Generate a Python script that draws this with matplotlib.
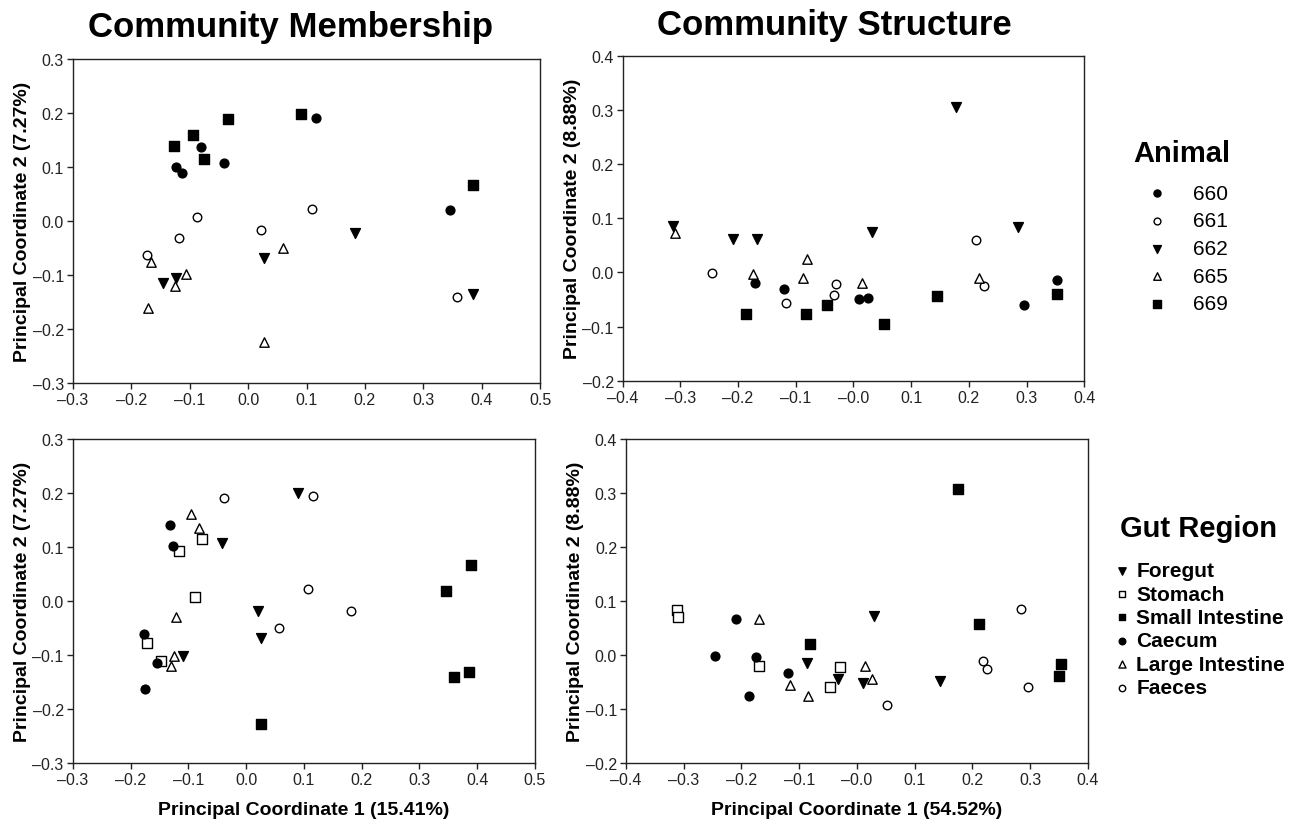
import numpy as np
import matplotlib.pyplot as plt

plt.rcParams['font.family'] = ['Liberation Sans', 'DejaVu Sans']

animals = ['660', '661', '662', '665', '669']
regions = ['Foregut', 'Stomach', 'Small Intestine', 'Caecum', 'Large Intestine', 'Faeces']

# community membership, coloured by animal
memb_animal_x = [
    [-0.123, -0.113, -0.080, -0.041, 0.116, 0.345],
    [-0.087, -0.119, -0.173, 0.022, 0.109, 0.358],
    [-0.146, -0.123, 0.027, 0.183, 0.385],
    [-0.167, -0.171, -0.126, -0.107, 0.059, 0.027],
    [-0.127, -0.094, -0.034, -0.075, 0.091, 0.386],
]
memb_animal_y = [
    [0.100, 0.089, 0.137, 0.108, 0.191, 0.020],
    [0.008, -0.032, -0.063, -0.016, 0.023, -0.140],
    [-0.115, -0.106, -0.069, -0.022, -0.135],
    [-0.076, -0.161, -0.121, -0.098, -0.050, -0.225],
    [0.139, 0.160, 0.188, 0.114, 0.198, 0.067],
]

# community structure, by animal
struc_animal_x = [
    [-0.171, -0.120, 0.010, 0.025, 0.296, 0.352],
    [-0.245, -0.117, -0.033, -0.030, 0.212, 0.226],
    [-0.312, -0.208, -0.168, 0.032, 0.177, 0.286],
    [-0.310, -0.174, -0.087, -0.081, 0.015, 0.218],
    [-0.187, -0.083, -0.046, 0.053, 0.144, 0.352],
]
struc_animal_y = [
    [-0.020, -0.031, -0.050, -0.047, -0.060, -0.014],
    [-0.001, -0.057, -0.042, -0.022, 0.059, -0.026],
    [0.085, 0.062, 0.062, 0.074, 0.305, 0.083],
    [0.073, -0.003, -0.010, 0.025, -0.020, -0.010],
    [-0.076, -0.077, -0.060, -0.095, -0.044, -0.040],
]

# community membership, by gut region
memb_region_x = [
    [0.090, -0.041, 0.021, 0.025, -0.110],
    [-0.077, -0.116, -0.089, -0.171, -0.148],
    [0.389, 0.346, 0.359, 0.385, 0.025],
    [-0.132, -0.127, -0.177, -0.175, -0.154],
    [-0.096, -0.081, -0.121, -0.124, -0.130],
    [-0.038, 0.115, 0.107, 0.182, 0.057],
]
memb_region_y = [
    [0.200, 0.107, -0.018, -0.068, -0.101],
    [0.115, 0.092, 0.008, -0.078, -0.110],
    [0.067, 0.019, -0.141, -0.132, -0.227],
    [0.140, 0.102, -0.061, -0.162, -0.114],
    [0.161, 0.136, -0.029, -0.101, -0.120],
    [0.191, 0.194, 0.022, -0.019, -0.049],
]

# community structure, by gut region
struc_region_x = [
    [0.030, -0.087, -0.033, 0.011, 0.144],
    [-0.312, -0.310, -0.170, -0.047, -0.029],
    [0.176, -0.081, 0.212, 0.353, 0.351],
    [-0.246, -0.210, -0.175, -0.120, -0.187],
    [-0.169, -0.116, -0.085, 0.014, 0.026],
    [0.284, 0.218, 0.226, 0.296, 0.053],
]
struc_region_y = [
    [0.072, -0.015, -0.045, -0.052, -0.047],
    [0.084, 0.071, -0.020, -0.059, -0.022],
    [0.307, 0.021, 0.058, -0.016, -0.039],
    [-0.001, 0.066, -0.004, -0.033, -0.075],
    [0.067, -0.055, -0.075, -0.020, -0.045],
    [0.086, -0.010, -0.025, -0.059, -0.093],
]

# marker, facecolor, size
animal_style = [('o', 'black', 40), ('o', 'white', 38), ('v', 'black', 50),
                ('^', 'white', 46), ('s', 'black', 42)]
region_style = [('v', 'black', 50), ('s', 'white', 42), ('s', 'black', 42),
                ('o', 'black', 40), ('^', 'white', 46), ('o', 'white', 38)]

fig = plt.figure(figsize=(13.01, 8.29), dpi=100)
ax_tl = fig.add_axes([0.0561, 0.5368, 0.3590, 0.3908])
ax_tr = fig.add_axes([0.4786, 0.5396, 0.3548, 0.3920])
ax_bl = fig.add_axes([0.0559, 0.0781, 0.3553, 0.3912])
ax_br = fig.add_axes([0.4812, 0.0781, 0.3549, 0.3912])


def draw(ax, xs, ys, styles, names):
    for x, y, (m, fc, s), name in zip(xs, ys, styles, names):
        ax.scatter(x, y, marker=m, s=s, facecolor=fc, edgecolor='black',
                   linewidths=1.0, label=name, zorder=3)


def fmt(v, pos):
    return ('%.1f' % v).replace('-', '\u2013')


def style(ax, xlim, ylim, ylab, xlab=None):
    ax.set_xlim(*xlim)
    ax.set_ylim(*ylim)
    ax.set_xticks(np.arange(xlim[0], xlim[1] + 0.001, 0.1))
    ax.set_yticks(np.arange(ylim[0], ylim[1] + 0.001, 0.1))
    ax.xaxis.set_major_formatter(plt.FuncFormatter(fmt))
    ax.yaxis.set_major_formatter(plt.FuncFormatter(fmt))
    ax.tick_params(direction='out', length=4, width=1, labelsize=11.5, pad=2.5,
                   colors='#222222')
    for sp in ax.spines.values():
        sp.set_linewidth(1.0)
        sp.set_color('#222222')
    ax.set_ylabel(ylab, fontsize=14, fontweight='bold', labelpad=1)
    if xlab:
        ax.set_xlabel(xlab, fontsize=14, fontweight='bold', labelpad=10)


draw(ax_tl, memb_animal_x, memb_animal_y, animal_style, animals)
draw(ax_tr, struc_animal_x, struc_animal_y, animal_style, animals)
draw(ax_bl, memb_region_x, memb_region_y, region_style, regions)
draw(ax_br, struc_region_x, struc_region_y, region_style, regions)

style(ax_tl, (-0.3, 0.5), (-0.3, 0.3), 'Principal Coordinate 2 (7.27%)')
style(ax_tr, (-0.4, 0.4), (-0.2, 0.4), 'Principal Coordinate 2 (8.88%)')
style(ax_bl, (-0.3, 0.5), (-0.3, 0.3), 'Principal Coordinate 2 (7.27%)',
      'Principal Coordinate 1 (15.41%)')
style(ax_br, (-0.4, 0.4), (-0.2, 0.4), 'Principal Coordinate 2 (8.88%)',
      'Principal Coordinate 1 (54.52%)')

fig.text(290 / 1301, 1 - 37 / 829, 'Community Membership', fontsize=25,
         fontweight='bold', ha='center', va='baseline')
fig.text(834 / 1301, 1 - 35 / 829, 'Community Structure', fontsize=25,
         fontweight='bold', ha='center', va='baseline')

h, l = ax_tr.get_legend_handles_labels()
leg1 = fig.legend(h, l, loc='center', bbox_to_anchor=(0.9087, 0.726),
                  frameon=False, title='Animal', fontsize=15, markerscale=0.8,
                  scatterpoints=1, labelspacing=0.41, handletextpad=0.7,
                  borderpad=0, title_fontproperties={'size': 21, 'weight': 'bold'})
leg1._legend_box.sep = 12

h, l = ax_br.get_legend_handles_labels()
leg2 = fig.legend(h, l, loc='center', bbox_to_anchor=(0.921, 0.2685),
                  frameon=False, title='Gut Region', markerscale=0.75,
                  scatterpoints=1, labelspacing=0.21, handletextpad=0.2,
                  handlelength=1.0, borderpad=0,
                  prop={'size': 15, 'weight': 'bold'},
                  title_fontproperties={'size': 21, 'weight': 'bold'})
leg2._legend_box.sep = 14

fig.savefig('out.png', dpi=100)
